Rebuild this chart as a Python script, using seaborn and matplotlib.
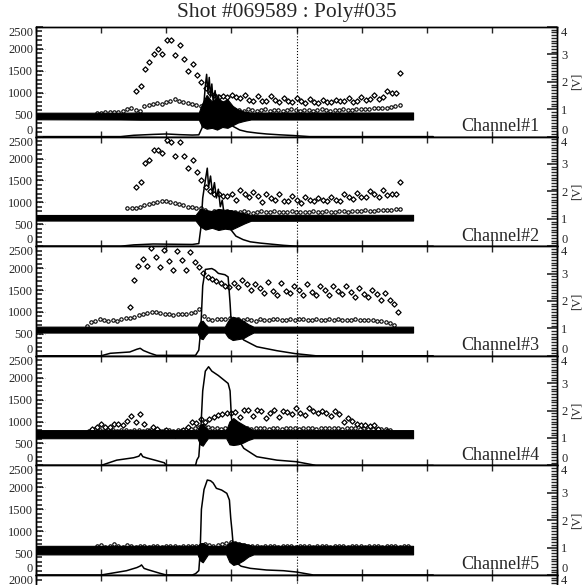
import numpy as np
import pandas as pd
import matplotlib
matplotlib.use("Agg")
import matplotlib.pyplot as plt
import seaborn as sns
from matplotlib.ticker import MultipleLocator, FixedLocator

# ---------------- data ----------------
TITLE = "Shot #069589 : Poly#035"
CHANNELS = ["Channel#1", "Channel#2", "Channel#3", "Channel#4", "Channel#5"]
LEFT_TICKS = [0, 500, 1000, 1500, 2000, 2500]
RIGHT_TICKS = [0, 1, 2, 3, 4]
X_TICKS = [0, 1, 2, 3, 4, 5, 6, 7, 8]
MARK_T = 4.0          # dotted time marker
STEP = 0.0665         # sampling interval of the point series

# sparse diamonds (start time, values)
diam_start = [1.54, 1.54, 1.44, 0.80, None]
diam_ch1 = [1040, 1150, 1550, 1700, 1890, 1990, 1890, 2210, 2210, 1860, 2080, 1760, 1500, 1660,
            1410, 1250, 1100, 1000, 950, 900, 920, 900, 960, 900, 890, 960, 840, 810, 930, 810,
            810, 920, 840, 780, 890, 810, 790, 890, 810, 760, 860, 790, 760, 840, 780, 790, 840,
            810, 820, 870, 800, 820, 900, 830, 850, 950, 860, 900, 1050, 990, 990, 1450]
diam_ch2 = [1340, 1470, 1890, 1960, 2200, 2200, 2120, 2430, 2380, 2050, 2380, 2050, 1780, 1960,
            1690, 1510, 1350, 1250, 1200, 1180, 1140, 1140, 1200, 1060, 1290, 1180, 1120, 1230,
            1140, 1010, 1180, 1110, 1060, 1180, 1030, 1030, 1140, 1060, 990, 1120, 1060, 1030,
            1110, 1050, 1030, 1120, 1060, 1030, 1180, 1120, 1080, 1210, 1120, 1120, 1250, 1180,
            1120, 1280, 1170, 1200, 1200, 1470]
diam_ch3 = [1120, 1720, 2050, 2210, 2050, 2470, 2250, 2030, 2420, 2160, 1960, 2390, 2180, 1960,
            2360, 2140, 2030, 1900, 1800, 1750, 1700, 1650, 1600, 1560, 1650, 1560, 1740, 1630,
            1500, 1630, 1540, 1430, 1680, 1480, 1390, 1660, 1480, 1430, 1590, 1500, 1390, 1630,
            1460, 1380, 1590, 1500, 1380, 1590, 1480, 1400, 1590, 1460, 1340, 1540, 1400, 1340,
            1510, 1400, 1280, 1440, 1280, 1180, 1000]
diam_ch4 = [760, 820, 870, 950, 880, 880, 950, 950, 920, 1020, 1120, 1000, 1180, 950, 790, 880,
            820, 770, 800, 720, 700, 720, 800, 880, 980, 970, 1060, 1000, 1050, 1100, 1150, 1180,
            1200, 1200, 1210, 1100, 1260, 1260, 1120, 1260, 1240, 1090, 1200, 1270, 1110, 1250,
            1220, 1170, 1320, 1200, 1160, 1300, 1240, 1190, 1240, 1190, 1120, 1230, 1180, 1000,
            1080, 1010, 950, 920, 920, 890, 920, 830, 770, 790]
diam_ch5 = []

# dense open circles (start time, values)
circ_start = [0.93, 1.40, 0.78, 0.78, 0.93]
circ_ch1 = [540, 545, 550, 560, 570, 560, 580, 640, 660, 610, 580, 690, 725, 740, 760, 740, 790,
            820, 850, 820, 790, 770, 740, 720, 690, 650, 560, 600, 640, 700, 640, 590, 600,
            610, 590, 620, 600, 580, 610, 620, 590, 600, 610, 590, 600, 620, 600, 590, 610, 600,
            580, 600, 620, 610, 590, 600, 610, 620, 600, 610, 630, 640, 620, 640, 650, 660, 650,
            660, 680, 700, 720]
circ_ch2 = [870, 880, 860, 900, 940, 960, 990, 1010, 1040, 1020, 1000, 990, 960, 930, 900, 890,
            880, 860, 820, 760, 800, 780, 760, 800, 780,
            790, 770, 800, 780, 760, 790, 800, 770, 780, 800, 790, 770, 780, 800, 790, 780, 770,
            790, 800, 780, 790, 800, 780, 790, 800, 810, 790, 800, 810, 800, 820, 810, 800, 820,
            830, 820, 830, 840, 850]
circ_ch3 = [680, 760, 800, 850, 820, 800, 810, 800, 830, 860, 870, 880, 940, 950, 970, 990, 1000,
            980, 960, 950, 940, 950, 950, 960, 980, 1000, 1060,
            900, 850, 820, 850, 850, 830, 860, 820, 830, 810, 840, 820, 800, 830, 820, 810, 830,
            840, 820, 810, 830, 820, 840, 830, 810, 820, 830, 820, 810, 830, 820, 830, 820, 810,
            820, 830, 820, 810, 820, 810, 800, 790, 770, 740, 700]
circ_ch4 = [750, 800, 820, 800, 790, 810, 800, 790, 800, 810, 790, 800, 810, 790, 800, 820, 800,
            790, 810, 800, 790, 800, 810, 820, 830, 850, 880,
            900, 880, 860, 850, 840, 850, 860, 840, 850, 860, 850, 840, 850, 860, 850, 840, 860,
            850, 840, 850, 860, 850, 840, 850, 860, 850, 840, 850, 860, 850, 860, 850, 840, 850,
            860, 850, 840, 850, 840, 830, 830, 820, 820, 810]
circ_ch5 = [660, 680, 650, 670, 700, 660, 650, 680, 660, 650, 670, 660, 650, 660, 670, 650, 660,
            670, 660, 650, 660, 670, 660, 670, 690, 700,
            680, 670, 690, 700, 720, 750, 730, 700, 680, 660, 670, 660, 650, 660, 670, 660, 650,
            660, 670, 660, 650, 660, 670, 660, 650, 660, 670, 660, 650, 660, 670, 660, 650, 660,
            670, 660, 650, 660, 670, 660, 650, 660, 670, 660, 650, 660, 660]

# dense filled band: envelope (time, low, high)
band_t1 = [0.0, 1.3, 1.6, 2.50, 2.55, 2.62, 2.70, 2.78, 2.86, 2.94, 3.02, 3.10, 3.20, 3.30, 5.79]
band_lo1 = [395, 390, 385, 385, 230, 180, 200, 160, 220, 200, 260, 320, 360, 390, 390]
band_hi1 = [545, 545, 550, 550, 750, 950, 800, 900, 800, 850, 700, 620, 570, 550, 550]
band_t2 = [0.0, 2.45, 2.52, 2.60, 2.70, 2.80, 2.90, 3.00, 3.10, 3.20, 3.30, 5.79]
band_lo2 = [585, 585, 450, 380, 420, 370, 400, 380, 450, 520, 580, 585]
band_hi2 = [712, 712, 850, 830, 800, 850, 830, 820, 780, 750, 715, 715]
band_t3 = [0.0, 2.48, 2.52, 2.56, 2.60, 2.64, 2.90, 2.95, 3.02, 3.10, 3.18, 3.26, 3.34, 5.79]
band_lo3 = [530, 530, 400, 380, 470, 530, 530, 420, 360, 380, 400, 470, 530, 530]
band_hi3 = [665, 665, 780, 800, 720, 665, 665, 800, 890, 860, 800, 720, 665, 665]
band_t4 = [0.0, 2.48, 2.52, 2.56, 2.60, 2.64, 2.92, 2.97, 3.03, 3.10, 3.18, 3.26, 3.34, 5.79]
band_lo4 = [620, 620, 480, 450, 540, 620, 620, 480, 465, 480, 520, 580, 620, 620]
band_hi4 = [805, 805, 930, 950, 870, 805, 805, 1000, 1080, 1000, 930, 860, 805, 805]
band_t5 = [0.0, 2.48, 2.52, 2.56, 2.60, 2.64, 2.92, 2.97, 3.03, 3.10, 3.18, 3.26, 3.34, 5.79]
band_lo5 = [470, 470, 330, 290, 380, 470, 470, 300, 230, 260, 330, 420, 470, 470]
band_hi5 = [665, 665, 720, 730, 700, 665, 665, 740, 760, 740, 720, 690, 665, 665]

# signal trace (time, value)
sig_t1 = [0.0, 1.3, 1.5, 1.8, 2.0, 2.2, 2.4, 2.5, 2.55, 2.58, 2.60, 2.62, 2.64, 2.66, 2.68, 2.70,
          2.72, 2.75, 2.78, 2.80, 2.83, 2.86, 2.90, 2.95, 3.03, 3.13, 3.24, 3.40, 3.54, 3.75,
          3.95, 4.2, 6.1]
sig_v1 = [0, 0, 30, 50, 60, 45, 35, 40, 200, 800, 1150, 1420, 1000, 1350, 900, 1200, 800, 1050,
          650, 950, 600, 800, 500, 350, 230, 150, 110, 80, 60, 40, 25, 0, 0]
sig_t2 = [0.0, 1.3, 1.5, 1.8, 2.1, 2.4, 2.5, 2.53, 2.56, 2.60, 2.63, 2.65, 2.68, 2.71, 2.74, 2.77,
          2.80, 2.83, 2.86, 2.89, 2.92, 2.95, 2.98, 3.07, 3.18, 3.29, 3.45, 3.59, 3.8, 4.0, 6.1]
sig_v2 = [0, 0, 30, 50, 45, 40, 60, 400, 1100, 1500, 1780, 1350, 1600, 1200, 1450, 1100, 1300,
          900, 1050, 700, 800, 550, 400, 230, 150, 100, 70, 50, 20, 0, 0]
sig_t3 = [0.0, 1.0, 1.14, 1.44, 1.55, 1.60, 1.65, 1.75, 1.85, 2.45, 2.50, 2.53, 2.56, 2.60, 2.70,
          2.75, 2.80, 2.90, 2.95, 2.98, 3.00, 3.05, 3.08, 3.19, 3.39, 3.70, 3.98, 4.3, 6.1]
sig_v3 = [0, 0, 57, 87, 150, 171, 120, 60, 10, 10, 130, 600, 1600, 1970, 1990, 1950, 1880, 1850,
          1800, 1200, 700, 600, 550, 360, 207, 116, 50, 0, 0]
sig_t4 = [0.0, 1.0, 1.24, 1.50, 1.58, 1.61, 1.64, 1.70, 1.85, 1.97, 2.0, 2.45, 2.47, 2.50, 2.53,
          2.56, 2.60, 2.65, 2.70, 2.75, 2.80, 2.85, 2.90, 2.95, 2.98, 3.00, 3.03, 3.08, 3.19,
          3.39, 3.70, 4.0, 4.3, 6.1]
sig_v4 = [0, 0, 120, 175, 210, 270, 200, 170, 110, 60, 0, 0, 123, 200, 800, 1700, 2150, 2250,
          2150, 2100, 2050, 1990, 1930, 1870, 1700, 1100, 800, 654, 390, 198, 120, 84, 0, 0]
sig_t5 = [0.0, 1.0, 1.39, 1.55, 1.60, 1.62, 1.66, 1.72, 1.9, 2.0, 2.4, 2.45, 2.50, 2.52, 2.54,
          2.58, 2.63, 2.68, 2.72, 2.77, 2.85, 2.93, 2.97, 2.99, 3.01, 3.03, 3.06, 3.15, 3.29,
          3.54, 3.80, 4.0, 4.26, 6.1]
sig_v5 = [0, 0, 98, 170, 205, 230, 150, 120, 40, 0, 0, 30, 100, 500, 1500, 1950, 2166, 2150,
          2100, 1977, 1938, 1863, 1710, 1300, 1000, 645, 300, 200, 152, 114, 98, 68, 0, 0]

diam_vals = [diam_ch1, diam_ch2, diam_ch3, diam_ch4, diam_ch5]
circ_vals = [circ_ch1, circ_ch2, circ_ch3, circ_ch4, circ_ch5]
bands = [(band_t1, band_lo1, band_hi1), (band_t2, band_lo2, band_hi2),
         (band_t3, band_lo3, band_hi3), (band_t4, band_lo4, band_hi4),
         (band_t5, band_lo5, band_hi5)]
signals = [(sig_t1, sig_v1), (sig_t2, sig_v2), (sig_t3, sig_v3), (sig_t4, sig_v4), (sig_t5, sig_v5)]

# ---------------- style ----------------
sns.set_style("ticks")
plt.rcParams["font.family"] = ["Liberation Serif", "DejaVu Serif"]
plt.rcParams["axes.linewidth"] = 1.0

W_PX, H_PX = 582, 585
fig = plt.figure(figsize=(W_PX / 100, H_PX / 100), dpi=100)

LEFT = 36 / W_PX
WIDTH = 521 / W_PX
TOP0 = 27
PH = 109.6
HFRAC = PH / H_PX


def style_axes(ax, ax2, ymax_left, left_ticks, right_ticks, partial=False):
    ax.set_xlim(0, 8)
    ax.set_ylim(0, ymax_left)
    ax.set_xticks(X_TICKS)
    ax.tick_params(axis="x", which="both", direction="in", top=True, bottom=True,
                   labelbottom=False, length=4, width=1)
    ax.yaxis.set_major_locator(FixedLocator(left_ticks))
    ax.yaxis.set_minor_locator(MultipleLocator(100))
    ax.set_yticklabels([str(v) for v in left_ticks])
    ax.tick_params(axis="y", which="major", direction="in", length=5, width=1.2,
                   labelsize=9, pad=2, left=True, right=False)
    ax.tick_params(axis="y", which="minor", direction="in", length=4, width=1.2,
                   left=True, right=False)
    for y in left_ticks:
        ax.plot([0, 0.018], [y, y], transform=ax.get_yaxis_transform(), ls=":", lw=0.8,
                color="k", clip_on=False)
    labs = ax.get_yticklabels()
    labs[-1].set_va("top")
    if not partial:
        labs[0].set_va("bottom")

    ax2.set_ylim(0, 4)
    ax2.yaxis.set_major_locator(FixedLocator(right_ticks))
    ax2.yaxis.set_minor_locator(MultipleLocator(0.1))
    ax2.set_yticklabels([str(v) for v in right_ticks])
    ax2.tick_params(axis="y", which="major", direction="in", length=7, width=1.2,
                    labelsize=9, pad=3)
    ax2.tick_params(axis="y", which="minor", direction="in", length=4, width=1.0)
    labs2 = ax2.get_yticklabels()
    labs2[-1].set_va("top")
    if not partial:
        labs2[0].set_va("bottom")
        ax2.set_ylabel("[V]", rotation=90, fontsize=9)
        ax2.yaxis.set_label_coords(1.026, 0.5)
    else:
        ax2.set_ylabel("")
    for a in (ax, ax2):
        for sp in a.spines.values():
            sp.set_linewidth(1.0)
            sp.set_color("k")
        a.set_xlabel("")
    ax.set_ylabel("")
    ax.axvline(MARK_T, ls=":", lw=0.8, color="k")


for k in range(6):
    bottom = 1 - (TOP0 + PH * (k + 1)) / H_PX
    ax = fig.add_axes([LEFT, bottom, WIDTH, HFRAC])
    ax2 = ax.twinx()
    if k < 5:
        # dense circles
        cv = circ_vals[k]
        cdf = pd.DataFrame({"t": circ_start[k] + STEP * np.arange(len(cv)), "v": cv})
        sns.scatterplot(data=cdf, x="t", y="v", ax=ax, marker="o", s=6,
                        facecolor="white", edgecolor="black", linewidth=0.8, zorder=2)
        # sparse diamonds
        dv = diam_vals[k]
        if len(dv):
            ddf = pd.DataFrame({"t": diam_start[k] + STEP * np.arange(len(dv)), "v": dv})
            sns.scatterplot(data=ddf, x="t", y="v", ax=ax, marker="D", s=7,
                            facecolor="white", edgecolor="black", linewidth=0.9, zorder=3)
        # band
        bt, blo, bhi = bands[k]
        ax.fill_between(bt, blo, bhi, color="black", lw=0.8, edgecolor="black", zorder=4)
        # signal
        st, sv = signals[k]
        sdf = pd.DataFrame({"t": st, "v": sv})
        sns.lineplot(data=sdf, x="t", y="v", ax=ax, color="black", lw=1.1,
                     estimator=None, sort=False, zorder=5)
        style_axes(ax, ax2, 2500, LEFT_TICKS, RIGHT_TICKS)
        ax.text(0.967, 0.051, CHANNELS[k], transform=ax.transAxes, ha="right",
                va="baseline", fontsize=13)
    else:
        style_axes(ax, ax2, 2000, [2000], [4], partial=True)

fig.text(286.5 / W_PX, 1 - 13 / H_PX, TITLE, ha="center", va="center", fontsize=15.5)

fig.savefig("out.png", dpi=100)
